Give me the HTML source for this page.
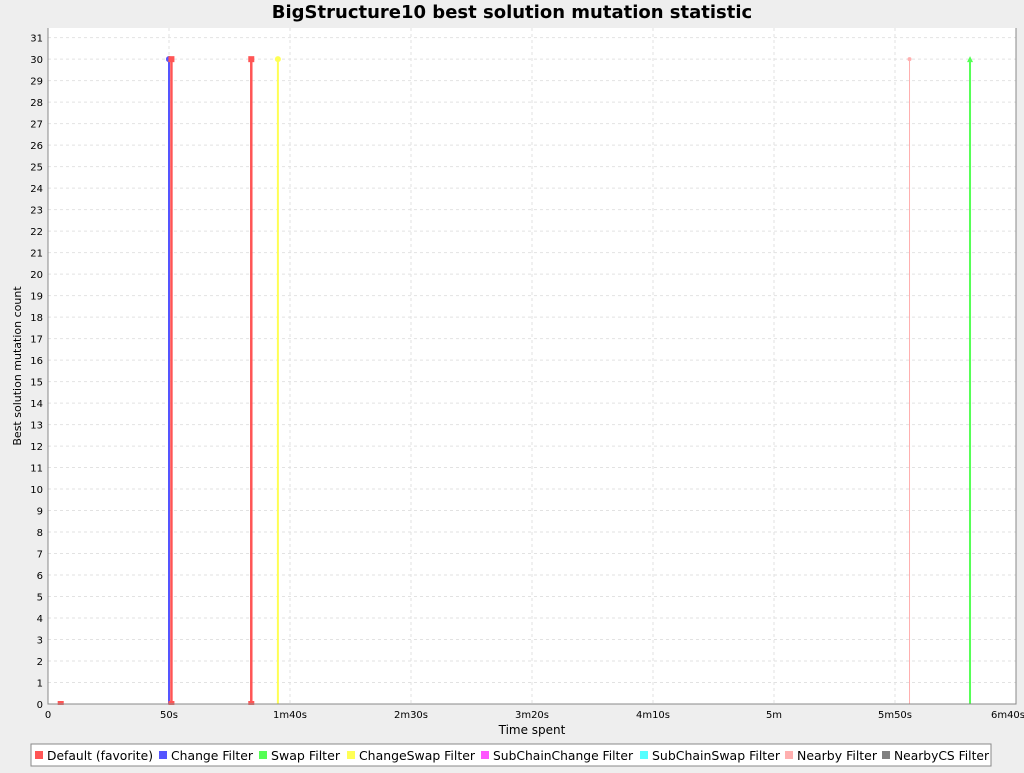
<!DOCTYPE html>
<html><head><meta charset="utf-8"><style>
body{margin:0;background:#eeeeee;font-family:"Liberation Sans","DejaVu Sans",sans-serif}
svg text{font-family:"DejaVu Sans","Liberation Sans",sans-serif}
</style></head><body>
<svg id="c" width="1024" height="768" xmlns="http://www.w3.org/2000/svg">
<text x="512" y="18" text-anchor="middle" font-size="18" font-weight="bold" fill="#000">BigStructure10 best solution mutation statistic</text>
<rect x="48" y="28" width="968" height="676" fill="#fff"/>
<g id="grid"></g><g id="marks"></g><g id="axes"></g>
<text x="532" y="734" text-anchor="middle" font-size="12">Time spent</text>
<text transform="translate(21,366) rotate(-90)" text-anchor="middle" font-size="11">Best solution mutation count</text>
<g id="legend"></g>
</svg>
<script>
const seriesNames=["Default (favorite)","Change Filter","Swap Filter","ChangeSwap Filter","SubChainChange Filter","SubChainSwap Filter","Nearby Filter","NearbyCS Filter"];
const seriesColors=["#ff5555","#5555ff","#55ff55","#ffff55","#ff55ff","#55ffff","#ffafaf","#808080"];
const eventSeries=[7,1,0,0,3,6,2];
const eventTimes=[50,50,51,84,95,356,381];
const eventCounts=[30,30,30,30,30,30,30];
const baseSeg=[4,6.5];
const xTicks=[0,50,100,150,200,250,300,350,400];
const xTickLabels=["0","50s","1m40s","2m30s","3m20s","4m10s","5m","5m50s","6m40s"];
const X0=48,X1=1016,Y0=704,Y1=28,XMAX=400,YMAX=31.45;
const sx=v=>X0+v/XMAX*(X1-X0), sy=v=>Y0-v/YMAX*(Y0-Y1);
const NS="http://www.w3.org/2000/svg";
function mk(p,t,a){const e=document.createElementNS(NS,t);for(const k in a)e.setAttribute(k,a[k]);document.getElementById(p).appendChild(e);return e;}
for(let i=0;i<=31;i++){const y=sy(i);
const g=mk('grid','line',{x1:X0,x2:X1,y1:y,y2:y,stroke:'#e2e2e2','stroke-dasharray':'3,3'});


const t=mk('axes','text',{x:X0-5,y:y+4,'text-anchor':'end','font-size':10});t.textContent=i;

}
xTicks.forEach((v,i)=>{const x=sx(v);
const g=mk('grid','line',{x1:x,x2:x,y1:Y1,y2:Y0,stroke:'#e2e2e2','stroke-dasharray':'3,3'});


const t=mk('axes','text',{x:i==xTicks.length-1?x-8:x,y:Y0+14,'text-anchor':'middle','font-size':10});t.textContent=xTickLabels[i];

});
const ax=mk('axes','path',{d:`M${X0},${Y1}V${Y0}H${X1}V${Y1}`,fill:'none',stroke:'#888'});


const b=mk('marks','rect',{x:sx(baseSeg[0]),y:Y0-3,width:sx(baseSeg[1])-sx(baseSeg[0]),height:4,fill:seriesColors[0]});


eventTimes.forEach((t,i)=>{const s=eventSeries[i],x=sx(t),c=seriesColors[s];
const w=s==6||s==7?1:(s==0?2.5:2);
const l=mk('marks','line',{x1:x,x2:x,y1:sy(0),y2:sy(eventCounts[i]),stroke:c,'stroke-width':w});


const m=s==2?mk('marks','path',{d:`M${x-3},${sy(eventCounts[i])+3}L${x},${sy(eventCounts[i])-3}L${x+3},${sy(eventCounts[i])+3}Z`,fill:c})
:s==0?mk('marks','rect',{x:x-3,y:sy(eventCounts[i])-3,width:6,height:6,fill:c})
:mk('marks','circle',{cx:x,cy:sy(eventCounts[i]),r:s==6?2:3,fill:c});


if(s==0){const m2=mk('marks','rect',{x:x-3,y:Y0-3,width:6,height:4,fill:c});

}});
const lb=mk('legend','rect',{x:31,y:744,width:960,height:22,fill:'#fff',stroke:'#888'});


const legX=[35,159,259,347,481,640,785,882];
const legW=[106,82,69,116,140,128,80,95];
seriesNames.forEach((n,i)=>{
const r=mk('legend','rect',{x:legX[i],y:751,width:8,height:8,fill:seriesColors[i]});


const t=mk('legend','text',{x:legX[i]+12,y:760,'font-size':12,textLength:legW[i],lengthAdjust:'spacingAndGlyphs'});t.textContent=n;

});
</script>
</body></html>
